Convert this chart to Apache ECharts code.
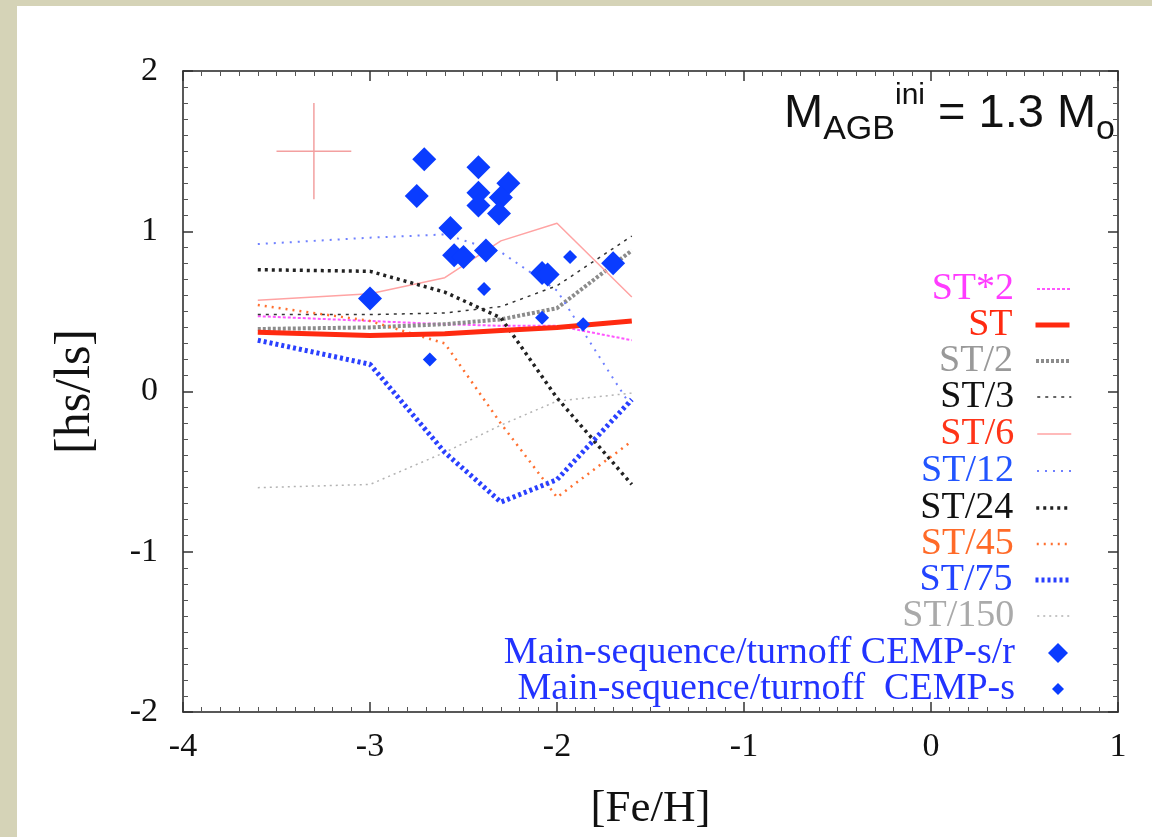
<!DOCTYPE html>
<html>
<head>
<meta charset="utf-8">
<script src="https://cdn.jsdelivr.net/npm/echarts@6/dist/echarts.min.js"></script>
<style>
html,body{margin:0;padding:0;background:#d5d3b7;}
#panel{position:absolute;left:17px;top:6px;width:1135px;height:831px;background:#ffffff;}
#chart{position:absolute;left:0;top:0;width:1152px;height:837px;}
</style>
</head>
<body>
<div id="panel"></div>
<div id="chart"></div>
<script>
// ---------- data ----------
const feH = [-3.6, -3.0, -2.6, -2.3, -2.0, -1.6];
const stTimes2 = [0.47, 0.44, 0.42, 0.41, 0.41, 0.32];
const stBase   = [0.37, 0.35, 0.36, 0.38, 0.40, 0.44];
const stDiv2   = [0.39, 0.40, 0.42, 0.45, 0.52, 0.88];
const stDiv3   = [0.48, 0.48, 0.49, 0.53, 0.66, 0.97];
const stDiv6   = [0.57, 0.61, 0.71, 0.94, 1.05, 0.59];
const stDiv12  = [0.92, 0.96, 0.98, 0.87, 0.63, -0.10];
const stDiv24  = [0.76, 0.75, 0.62, 0.46, -0.04, -0.58];
const stDiv45  = [0.54, 0.44, 0.30, -0.20, -0.66, -0.31];
const stDiv75  = [0.32, 0.17, -0.38, -0.69, -0.55, -0.05];
const stDiv150 = [-0.60, -0.58, -0.38, -0.21, -0.06, -0.01];

const srFeH  = [-2.71, -2.75, -2.42, -2.26, -2.42, -2.30, -2.42, -2.31, -2.57, -2.38, -2.55, -2.50, -3.00, -2.08, -2.05, -1.70];
const srHsLs = [1.45, 1.22, 1.40, 1.30, 1.24, 1.21, 1.16, 1.11, 1.02, 0.88, 0.85, 0.84, 0.58, 0.74, 0.73, 0.80];
const sFeH   = [-2.39, -2.68, -1.93, -2.08, -1.86];
const sHsLs  = [0.64, 0.20, 0.84, 0.46, 0.42];

// typical error bar: centre and half-widths
const errBar = [-3.3, 1.5, 0.2, 0.3];

const xTicks = {min: -4, max: 1, step: 1};
const yTicks = {min: -2, max: 2, step: 1};

// ---------- styles ----------
const lineDefs = [
  {name: 'ST*2',   data: stTimes2, color: '#ff55ff', text: '#ff3cff', width: 2,   type: [3, 2]},
  {name: 'ST',     data: stBase,   color: '#ff2a10', text: '#ff2a10', width: 5,   type: 'solid'},
  {name: 'ST/2',   data: stDiv2,   color: '#8c8c8c', text: '#999999', width: 4,   type: [3, 2]},
  {name: 'ST/3',   data: stDiv3,   color: '#333333', text: '#111111', width: 1.5, type: [3, 5]},
  {name: 'ST/6',   data: stDiv6,   color: '#ffa3a3', text: '#ff3418', width: 1.5, type: 'solid'},
  {name: 'ST/12',  data: stDiv12,  color: '#6f80ff', text: '#2255ff', width: 2,   type: [2, 6]},
  {name: 'ST/24',  data: stDiv24,  color: '#222222', text: '#111111', width: 3.5, type: [3, 4]},
  {name: 'ST/45',  data: stDiv45,  color: '#ff7030', text: '#ff6a28', width: 2.5, type: [2, 5]},
  {name: 'ST/75',  data: stDiv75,  color: '#2a40ff', text: '#2244ff', width: 5,   type: [3, 3]},
  {name: 'ST/150', data: stDiv150, color: '#b3b3b3', text: '#aaaaaa', width: 1.5, type: [2, 4]}
];
const blue = '#0a3cff';
const scatterDefs = [
  {name: 'Main-sequence/turnoff CEMP-s/r', x: srFeH, y: srHsLs, size: 24, legendSize: 20},
  {name: 'Main-sequence/turnoff  CEMP-s',  x: sFeH,  y: sHsLs,  size: 14, legendSize: 12}
];
const legendCenters = [288, 324, 360, 396, 433, 470, 507, 543, 579, 615, 652, 688];
const legendTextRight = 1015;
const legendIconCenter = 1055;
const pageWidth = 1152;

const serif = '"Liberation Serif", "Times New Roman", serif';
const sans = '"Liberation Sans", Arial, sans-serif';

// ---------- series ----------
const series = [];
series.push({
  type: 'custom', name: 'err', silent: true,
  data: [errBar],
  encode: {x: 0, y: 1},
  renderItem: function (params, api) {
    const cx = api.value(0), cy = api.value(1), dx = api.value(2), dy = api.value(3);
    const l = api.coord([cx - dx, cy]), r = api.coord([cx + dx, cy]);
    const t = api.coord([cx, cy + dy]), b = api.coord([cx, cy - dy]);
    return {type: 'group', children: [
      {type: 'line', shape: {x1: l[0], y1: l[1], x2: r[0], y2: r[1]}, style: {stroke: '#f3a0a0', lineWidth: 1.5}},
      {type: 'line', shape: {x1: t[0], y1: t[1], x2: b[0], y2: b[1]}, style: {stroke: '#f3a0a0', lineWidth: 1.5}}
    ]};
  }
});
const order = [9, 0, 2, 3, 4, 5, 6, 7, 8, 1];
order.forEach(i => {
  const d = lineDefs[i];
  series.push({
    type: 'line', name: d.name, symbol: 'none', showSymbol: false, animation: false,
    data: feH.map((x, k) => [x, d.data[k]]),
    lineStyle: {color: d.color, width: d.width, type: d.type},
    itemStyle: {color: d.color},
    z: i === 1 ? 4 : 3
  });
});
scatterDefs.forEach(s => {
  series.push({
    type: 'scatter', name: s.name, symbol: 'diamond', symbolSize: s.size, animation: false,
    data: s.x.map((x, k) => [x, s.y[k]]),
    itemStyle: {color: blue, opacity: 1},
    z: 5
  });
});

// ---------- legends (one per row, right aligned) ----------
const legends = [];
function legendText(color, gap) {
  return {
    color: color, fontFamily: serif, fontSize: 38, lineHeight: 36,
    rich: {
      t: {color: color, fontFamily: serif, fontSize: 38, lineHeight: 36},
      g: {width: gap, lineHeight: 36, fontSize: 10}
    }
  };
}
lineDefs.forEach((d, i) => {
  const w = 34;
  const iconLeft = legendIconCenter - w / 2;
  legends.push({
    data: [d.name], right: pageWidth - (iconLeft + w), top: legendCenters[i] - 18,
    orient: 'vertical', align: 'right',
    padding: 0, selectedMode: false, itemWidth: w, itemHeight: 14,
    formatter: n => '{t|' + n + '}{g| }',
    textStyle: legendText(d.text, iconLeft - legendTextRight - 5),
    lineStyle: {width: d.width},
    itemStyle: {opacity: 0, color: 'rgba(0,0,0,0)', borderWidth: 0}
  });
});
scatterDefs.forEach((s, j) => {
  const w = s.legendSize;
  const iconLeft = legendIconCenter + 3 - w / 2;
  legends.push({
    data: [s.name], right: pageWidth - (iconLeft + w), top: legendCenters[10 + j] - 18,
    orient: 'vertical', align: 'right',
    padding: 0, selectedMode: false, itemWidth: w, itemHeight: w,
    icon: 'diamond',
    formatter: n => '{t|' + n + '}{g| }',
    textStyle: legendText('#2233ff', iconLeft - legendTextRight - 5),
    itemStyle: {color: blue}
  });
});

// ---------- axes ----------
const tickCommon = {
  axisLine: {show: true, onZero: false, lineStyle: {color: '#222', width: 1.5}},
  axisTick: {show: true, inside: true, length: 10, lineStyle: {color: '#333', width: 1.5}},
  minorTick: {show: true, splitNumber: 10, length: 5, lineStyle: {color: '#555', width: 1}},
  splitLine: {show: false}
};
const xAxis = [
  Object.assign({type: 'value', position: 'bottom', min: xTicks.min, max: xTicks.max, interval: xTicks.step,
    axisLabel: {fontFamily: serif, fontSize: 34, color: '#111', margin: 18},
    name: '[Fe/H]', nameLocation: 'middle', nameGap: 75,
    nameTextStyle: {fontFamily: serif, fontSize: 45, color: '#111'}}, tickCommon),
  Object.assign({type: 'value', position: 'top', min: xTicks.min, max: xTicks.max, interval: xTicks.step,
    axisLabel: {show: false}}, tickCommon)
];
const yAxis = [
  Object.assign({type: 'value', position: 'left', min: yTicks.min, max: yTicks.max, interval: yTicks.step,
    axisLabel: {fontFamily: serif, fontSize: 34, color: '#111', margin: 25},
    name: '[hs/ls]', nameLocation: 'middle', nameGap: 82,
    nameTextStyle: {fontFamily: serif, fontSize: 50, color: '#111'}}, tickCommon),
  Object.assign({type: 'value', position: 'right', min: yTicks.min, max: yTicks.max, interval: yTicks.step,
    axisLabel: {show: false}}, tickCommon)
];

const chart = echarts.init(document.getElementById('chart'), null, {renderer: 'canvas'});
chart.setOption({
  backgroundColor: 'transparent',
  animation: false,
  grid: {left: 183, top: 71, width: 935, height: 644, containLabel: false},
  title: {
    right: 37, top: 81, padding: 0,
    text: '{m|M}{sub|AGB}{sup|ini}{m| = 1.3 M}{sub|o}',
    textStyle: {
      fontWeight: 'normal',
      rich: {
        m:   {fontFamily: sans, fontSize: 47, fontWeight: 'normal', lineHeight: 66, color: '#111', verticalAlign: 'middle'},
        sub: {fontFamily: sans, fontSize: 34, fontWeight: 'normal', lineHeight: 32, color: '#111', verticalAlign: 'bottom'},
        sup: {fontFamily: sans, fontSize: 30, fontWeight: 'normal', lineHeight: 22, color: '#111', verticalAlign: 'top'}
      }
    }
  },
  legend: legends,
  xAxis: xAxis,
  yAxis: yAxis,
  series: series
});
</script>
</body>
</html>
